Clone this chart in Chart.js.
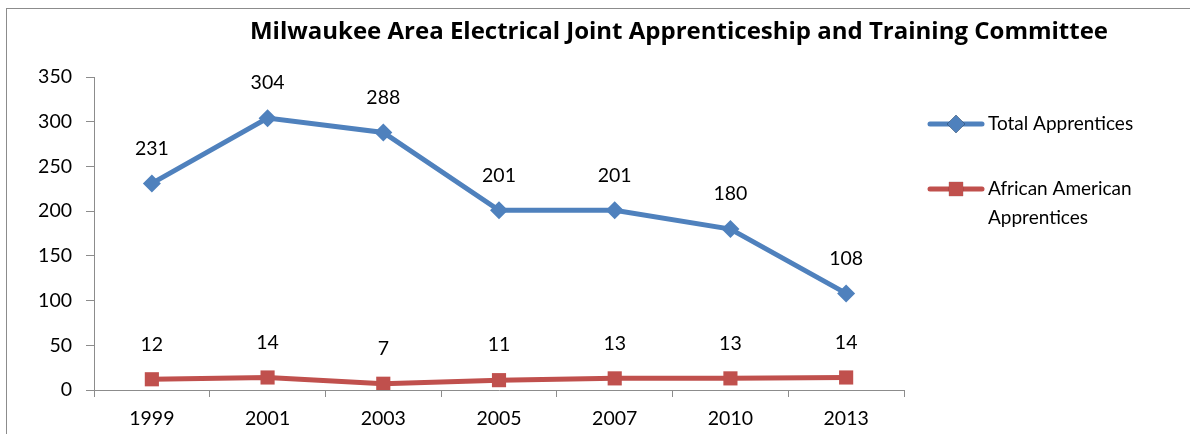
<!DOCTYPE html>
<html>
<head>
<meta charset="utf-8">
<script src="https://cdn.jsdelivr.net/npm/chart.js@4"></script>
<style>
  html, body { margin: 0; padding: 0; background: #fff; overflow: hidden; }
  #wrap { position: relative; width: 1190px; height: 434px; }
  #frame { position: absolute; left: 6px; top: 8px; width: 1300px; height: 600px; border: 1px solid #8c8c8c; }
  canvas { position: absolute; left: 0; top: 0; }
</style>
</head>
<body>
<div id="wrap">
  <div id="frame"></div>
  <canvas id="chart" width="1190" height="434"></canvas>
</div>
<script>
// datos
const years = ['1999', '2001', '2003', '2005', '2007', '2010', '2013'];
const totalApprentices = [231, 304, 288, 201, 201, 180, 108];
const africanAmerican = [12, 14, 7, 11, 13, 13, 14];
const chartTitle = 'Milwaukee Area Electrical Joint Apprenticeship and Training Committee';
const legendLines = [['Total Apprentices'], ['African American', 'Apprentices']];

const FONT = 'Lato, "Open Sans", sans-serif';
const TITLE_FONT = '"Open Sans", Lato, sans-serif';
const BLUE = '#4f81bd';
const RED = '#c0504d';
const AXIS = '#8c8c8c';

// titulo, etiquetas de valores y leyenda a mano
const extras = {
  id: 'extras',
  afterDraw(chart) {
    const c = chart.ctx;
    c.save();
    c.fillStyle = '#000';
    c.textAlign = 'center';
    c.textBaseline = 'middle';
    // el titulo ocupa ~858px en el original
    let size = 20;
    c.font = 'bold ' + size + 'px ' + TITLE_FONT;
    size = size * 858 / c.measureText(chartTitle).width;
    c.font = 'bold ' + size.toFixed(1) + 'px ' + TITLE_FONT;
    c.fillText(chartTitle, 679, 32);

    // valores encima de cada punto
    c.font = '19.5px ' + FONT;
    chart.data.datasets.forEach((ds, i) => {
      chart.getDatasetMeta(i).data.forEach((pt, j) => {
        c.fillText(String(ds.data[j]), pt.x, pt.y - 35);
      });
    });

    // leyenda
    const rows = [124, 189];
    c.font = '19px ' + FONT;
    chart.data.datasets.forEach((ds, i) => {
      const y = rows[i];
      c.strokeStyle = ds.borderColor;
      c.lineWidth = 5;
      c.lineCap = 'round';
      c.beginPath();
      c.moveTo(930, y);
      c.lineTo(982, y);
      c.stroke();
      Chart.helpers.drawPoint(c, {
        pointStyle: ds.pointStyle, radius: ds.pointRadius, borderWidth: 0
      }, 956, y);
      c.fillStyle = ds.backgroundColor;
      c.fill();
      c.fillStyle = '#000';
      c.textAlign = 'left';
      legendLines[i].forEach((t, k) => c.fillText(t, 988, y + k * 29));
    });
    c.restore();
  }
};

new Chart(document.getElementById('chart'), {
  type: 'line',
  data: {
    labels: years,
    datasets: [
      { label: legendLines[0].join(' '), data: totalApprentices, borderColor: BLUE, backgroundColor: BLUE,
        borderWidth: 5, pointStyle: 'rectRot', pointRadius: 9, pointBorderWidth: 0, tension: 0 },
      { label: legendLines[1].join(' '), data: africanAmerican, borderColor: RED, backgroundColor: RED,
        borderWidth: 5, pointStyle: 'rect', pointRadius: 10, pointBorderWidth: 0, tension: 0 }
    ]
  },
  options: {
    responsive: false,
    animation: false,
    layout: { padding: { left: 0, right: 286, top: 77, bottom: 0 } },
    plugins: { legend: { display: false }, title: { display: false }, tooltip: { enabled: false } },
    scales: {
      x: {
        offset: true,
        grid: { offset: true, drawOnChartArea: false, drawTicks: true, tickLength: 7, color: AXIS },
        border: { color: AXIS, width: 1 },
        ticks: { color: '#000', font: { family: FONT, size: 19.5 }, padding: 10, maxRotation: 0 },
        afterFit(s) { s.height = 44; }
      },
      y: {
        min: 0, max: 350,
        grid: { drawOnChartArea: false, drawTicks: true, tickLength: 8, color: AXIS },
        border: { color: AXIS, width: 1 },
        ticks: { stepSize: 50, color: '#000', font: { family: FONT, size: 19.5 }, padding: 14 },
        afterFit(s) { s.width = 94; }
      }
    }
  },
  plugins: [extras]
});
</script>
</body>
</html>
